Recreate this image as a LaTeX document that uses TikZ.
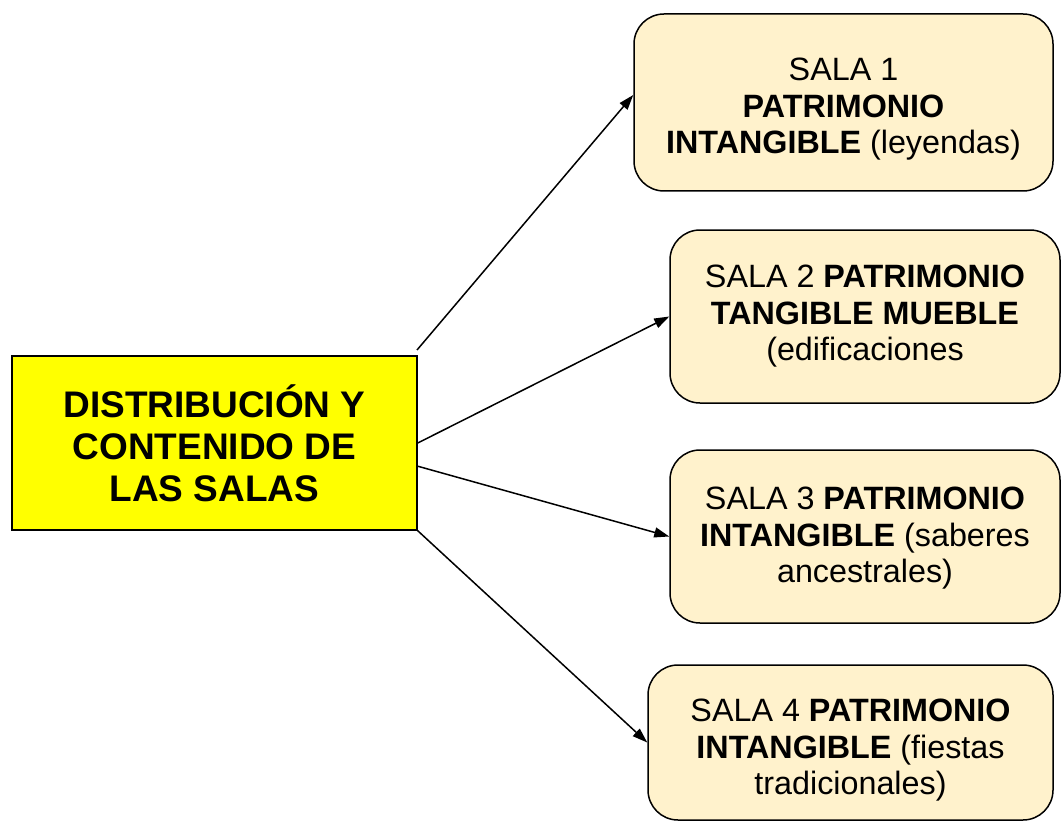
\documentclass[tikz,border=0pt]{standalone}
\usepackage{fontspec}
\setmainfont{Liberation Sans}
\usetikzlibrary{arrows.meta}
\definecolor{cream}{HTML}{FFF2CC}
\definecolor{brightyellow}{HTML}{FFFF00}
\begin{document}
\begin{tikzpicture}[x=1pt,y=-1pt,
  mainbox/.style={draw=black,line width=1.5pt,fill=brightyellow,minimum width=405pt,minimum height=174pt,align=center,inner sep=0pt,
    font=\fontsize{37}{42}\selectfont\bfseries},
  salabox/.style={draw=black,line width=1.5pt,fill=cream,rounded corners=30pt,inner sep=0pt},
  salatext/.style={align=center,inner sep=0pt,font=\fontsize{32.3}{36.5}\selectfont},
  conn/.style={line width=1.5pt,-{Triangle[length=15pt,width=10pt]}}]
\useasboundingbox (0,0) rectangle (1062,821);
\node[mainbox] (main) at (214.5,443) {DISTRIBUCIÓN Y\\CONTENIDO DE\\LAS SALAS};
\node[salabox,minimum width=419pt,minimum height=177pt] (s1) at (843.5,102.5) {};
\node[salabox,minimum width=390pt,minimum height=173pt] (s2) at (865,316.5) {};
\node[salabox,minimum width=390pt,minimum height=173pt] (s3) at (865,536.5) {};
\node[salabox,minimum width=405pt,minimum height=155pt] (s4) at (850.5,742.5) {};
\node[salatext] (t1) at ([yshift=-7pt]s1.center) {SALA 1\\\textbf{PATRIMONIO}\\\textbf{INTANGIBLE} (leyendas)};
\node[salatext] (t2) at (s2.center) {SALA 2 \textbf{PATRIMONIO}\\\textbf{TANGIBLE MUEBLE}\\(edificaciones};
\node[salatext] (t3) at ([yshift=-2pt]s3.center) {SALA 3 \textbf{PATRIMONIO}\\\textbf{INTANGIBLE} (saberes\\ancestrales)};
\node[salatext] (t4) at ([yshift=-8pt]s4.center) {SALA 4 \textbf{PATRIMONIO}\\\textbf{INTANGIBLE} (fiestas\\tradicionales)};
\coordinate (o1) at (417,350);
\coordinate (o3) at (417,466);
\draw[conn] (o1) -- (s1.west |- 0,95);
\draw[conn] (main.east) -- (s2.west);
\draw[conn] (o3) -- (s3.west);
\draw[conn] (main.south east) -- (s4.west);
\end{tikzpicture}
\end{document}
